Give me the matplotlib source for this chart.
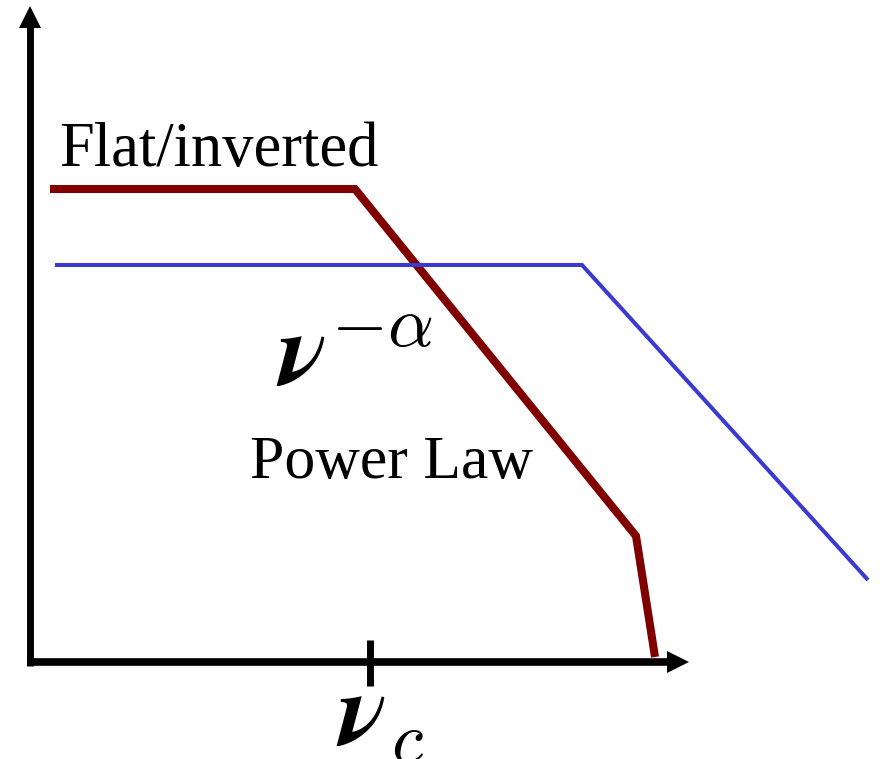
import matplotlib
matplotlib.use("Agg")
import matplotlib.pyplot as plt

plt.rcParams['mathtext.fontset'] = 'cm'

# Data (pixel-like coordinate system of the sketch, y grows downward)
red_x = [50, 355, 636, 655]
red_y = [189, 189, 536, 657]
blue_x = [55, 582, 868]
blue_y = [265, 265, 580]

label_flat = "Flat/inverted"
label_power = "Power Law"
label_slope = r"$\boldsymbol{\nu}^{-\alpha}$"
label_break = r"$\boldsymbol{\nu}_c$"
break_x = 370

fig = plt.figure(figsize=(8.8, 7.59), dpi=100)
ax = fig.add_axes([0, 0, 1, 1])
ax.set_xlim(0, 880)
ax.set_ylim(759, 0)
ax.axis('off')

# axes with arrows
ax.plot([30, 30], [666, 26], color='black', lw=5, solid_capstyle='butt')
ax.fill([19, 41, 30], [28, 28, 6], color='black', lw=0)
ax.plot([27, 669], [662, 662], color='black', lw=5.5, solid_capstyle='butt')
ax.fill([667, 667, 689], [651, 673, 662], color='black', lw=0)
ax.plot([break_x, break_x], [640, 686], color='black', lw=5, solid_capstyle='butt')

# curves
ax.plot(red_x, red_y, color='#800000', lw=5.8, solid_capstyle='butt', solid_joinstyle='miter')
ax.plot(blue_x, blue_y, color='#3a3ad2', lw=2.9, solid_capstyle='butt', solid_joinstyle='miter')

# labels
ax.text(59, 166, label_flat, family='Liberation Serif', fontsize=45, va='baseline', ha='left')
ax.text(250, 478, label_power, family='Liberation Serif', fontsize=44.5, va='baseline', ha='left')
ax.text(276, 386, label_slope, fontsize=74, va='baseline', ha='left')
ax.text(336, 746, label_break, fontsize=74, va='baseline', ha='left')

fig.savefig('out.png', dpi=100)
